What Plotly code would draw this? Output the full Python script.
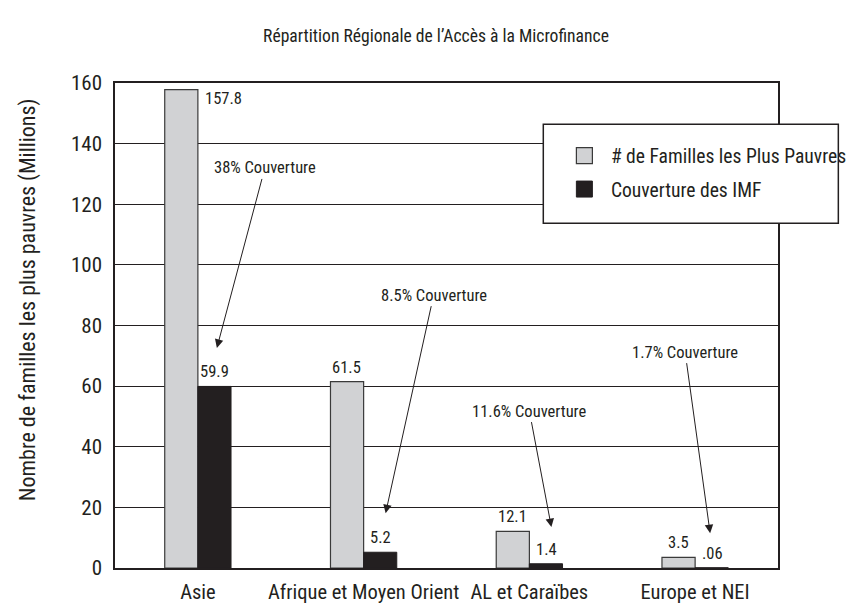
import plotly.graph_objects as go

categories = ["Asie", "Afrique et Moyen Orient", "AL et Caraïbes", "Europe et NEI"]
familles = [157.8, 61.5, 12.1, 3.5]
couverture = [59.9, 5.2, 1.4, 0.06]
familles_labels = ["157.8", "61.5", "12.1", "3.5"]
couverture_labels = ["59.9", "5.2", "1.4", ".06"]
coverage_texts = ["38% Couverture", "8.5% Couverture", "11.6% Couverture", "1.7% Couverture"]
arrow_head_y = [72.6, 18.1, 13.5, 11.5]
series_names = ["# de Familles les Plus Pauvres", "Couverture des IMF"]

FONT = "Roboto Condensed, Liberation Sans Narrow, sans-serif"
GRAY = "#d1d2d4"
BLACK = "#231f20"
INK = "#231f20"

fig = go.Figure()
fig.add_trace(go.Bar(
    x=categories, y=familles, name=series_names[0], showlegend=False,
    marker=dict(color=GRAY, line=dict(color="#3a3a3a", width=1.2)),
))
fig.add_trace(go.Bar(
    x=categories, y=couverture, name=series_names[1], showlegend=False,
    marker=dict(color=BLACK, line=dict(color=BLACK, width=1)),
))
# legend entries with larger square swatches
fig.add_trace(go.Scatter(x=[None], y=[None], mode="markers", name=series_names[0], legendgroup="a",
                         marker=dict(symbol="square", size=17, color=GRAY, line=dict(color="#3a3a3a", width=1.2))))
fig.add_trace(go.Scatter(x=[None], y=[None], mode="markers", name=series_names[1], legendgroup="b",
                         marker=dict(symbol="square", size=17, color=BLACK, line=dict(color=BLACK, width=1))))

ann = []
# value labels
for i, c in enumerate(categories):
    if i == 0:
        ann.append(dict(x=c, y=familles[i], text=familles_labels[i], showarrow=False,
                        xanchor="left", yanchor="middle", xshift=5, yshift=-9,
                        font=dict(size=16.5, family=FONT, color=INK)))
    else:
        ann.append(dict(x=c, y=familles[i], text=familles_labels[i], showarrow=False,
                        xanchor="center", yanchor="bottom", xshift=-17, yshift=3,
                        font=dict(size=16.5, family=FONT, color=INK)))
    ann.append(dict(x=c, y=couverture[i], text=couverture_labels[i], showarrow=False,
                    xanchor="center", yanchor="bottom", xshift=17, yshift=3,
                    font=dict(size=16.5, family=FONT, color=INK)))

# coverage arrows: (xshift of head, ax, ay)
arrow_geom = [(19, 48, -180), (22, 48, -218), (22, -22, -116), (15, -25, -181)]
for i, c in enumerate(categories):
    xs, ax, ay = arrow_geom[i]
    ann.append(dict(x=c, y=arrow_head_y[i], text=coverage_texts[i], showarrow=True,
                    xshift=xs, ax=ax, ay=ay, arrowhead=2, arrowsize=1.7, arrowwidth=1,
                    arrowcolor=INK, standoff=0,
                    font=dict(size=16.5, family=FONT, color=INK)))

# y-axis title (placed as annotation, centred where the reference places it)
ann.append(dict(x=-0.1322, xref="paper", xanchor="center", y=0.553, yref="paper", yanchor="middle",
                text="Nombre de familles les plus pauvres (Millions)", textangle=-90,
                showarrow=False, font=dict(size=22, family=FONT, color=INK)))

# The page body adds an 8px offset, so the figure is 8px smaller than the window.
fig.update_layout(
    width=856, height=596,
    margin=dict(l=107, r=68, t=75, b=36),
    paper_bgcolor="white", plot_bgcolor="white",
    barmode="group", bargap=0.6, bargroupgap=0,
    font=dict(family=FONT, color=INK),
    title=dict(text="Répartition Régionale de l’Accès à la Microfinance",
               x=0.5, xanchor="center", y=0.953, yanchor="middle",
               font=dict(size=17.6, family=FONT, color=INK)),
    legend=dict(x=0.668, y=0.89, xanchor="left", yanchor="top",
                bgcolor="rgba(0,0,0,0)", borderwidth=0,
                font=dict(size=19.6, family=FONT, color=INK),
                itemwidth=43, tracegroupgap=5),
    shapes=[dict(type="rect", xref="paper", yref="paper",
                 x0=0.646, x1=1.091, y0=0.711, y1=0.915,
                 fillcolor="white", line=dict(color=INK, width=1.5), layer="above")],
    annotations=ann,
    showlegend=True,
)
fig.update_xaxes(showline=True, mirror=True, linecolor=INK, linewidth=1.5,
                 ticks="", tickangle=0, automargin=False, ticklabelstandoff=5,
                 tickfont=dict(size=20.5, family=FONT, color=INK))
fig.update_yaxes(range=[0, 160], dtick=20, showgrid=True, gridcolor=INK, gridwidth=1,
                 showline=True, mirror=True, linecolor=INK, linewidth=1.5,
                 ticks="", ticklabelstandoff=7, automargin=False,
                 zeroline=False,
                 tickfont=dict(size=21, family=FONT, color=INK))

fig.write_html("out.html")
